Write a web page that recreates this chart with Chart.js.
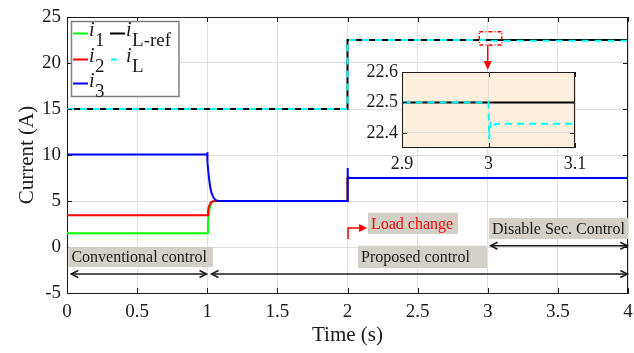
<!DOCTYPE html>
<html>
<head>
<meta charset="utf-8">
<script src="https://cdn.jsdelivr.net/npm/chart.js@4/dist/chart.umd.min.js"></script>
<style>
html, body { margin: 0; padding: 0; background: #fff; }
#wrap { position: relative; width: 634px; height: 353px; }
#main { position: absolute; left: 0; top: 0; }
#inset { position: absolute; left: 340px; top: 60px; }
</style>
</head>
<body>
<div id="wrap">
  <canvas id="main" width="634" height="353"></canvas>
  <canvas id="inset" width="250" height="120"></canvas>
</div>
<script>
// === DATA ===
const tI1 = [0, 1.0, 1.005, 1.01, 1.02, 1.03, 1.05, 2.0, 2.0, 4.0];
const vI1 = [1.5, 1.5, 2.6, 3.5, 4.4, 4.8, 5.0, 5.0, 7.5, 7.5];

const tI2 = [0, 1.0, 1.005, 1.01, 1.02, 1.03, 1.05, 2.0, 2.0, 4.0];
const vI2 = [3.45, 3.45, 3.9, 4.3, 4.7, 4.9, 5.0, 5.0, 7.5, 7.5];

const tI3 = [0, 1.0, 1.0, 1.003, 1.01, 1.02, 1.03, 1.045, 1.06, 1.08, 2.0, 2.0, 2.003, 2.008, 4.0];
const vI3 = [10.05, 10.05, 10.3, 9.2, 7.8, 6.6, 5.9, 5.35, 5.1, 5.0, 5.0, 8.6, 7.8, 7.5, 7.5];

const tRef = [0, 2.0, 2.0, 4.0];
const vRef = [15, 15, 22.5, 22.5];

const tIL = [0, 2.0, 2.0, 3.0, 3.0008, 3.0025, 3.007, 3.012, 4.0];
const vIL = [15, 15, 22.5, 22.5, 22.38, 22.44, 22.427, 22.43, 22.43];

const xTicks = [0, 0.5, 1, 1.5, 2, 2.5, 3, 3.5, 4];
const yTicks = [-5, 0, 5, 10, 15, 20, 25];
const insetXTicks = [2.9, 3, 3.1];
const insetYTicks = [22.4, 22.5, 22.6];

const SERIF = '"Liberation Serif", "Times New Roman", serif';
const INK = '#1a1a1a';
const GRID = '#dfdfdf';
const NOTE_BG = '#d4d0c8';

const pts = (ts, vs) => ts.map((t, i) => ({ x: t, y: vs[i] }));

// === HELPERS ===
function openHead(ctx, x, y, dir) {
    ctx.beginPath();
    ctx.moveTo(x + dir * 7, y - 3.5);
    ctx.lineTo(x, y);
    ctx.lineTo(x + dir * 7, y + 3.5);
    ctx.stroke();
}

function dblArrow(ctx, x0, x1, y) {
    ctx.strokeStyle = INK; ctx.lineWidth = 1.5;
    ctx.beginPath(); ctx.moveTo(x0, y); ctx.lineTo(x1, y); ctx.stroke();
    openHead(ctx, x0, y, 1);
    openHead(ctx, x1, y, -1);
}

function noteBox(ctx, x0, x1, y0, y1, text, color) {
    ctx.fillStyle = NOTE_BG;
    ctx.fillRect(x0, y0, x1 - x0, y1 - y0);
    ctx.fillStyle = color;
    ctx.font = '16px ' + SERIF;
    ctx.textAlign = 'left'; ctx.textBaseline = 'middle';
    ctx.fillText(text, x0 + 3, (y0 + y1) / 2 + 1);
}

function legendSym(ctx, i, sub, x, yBase) {
    ctx.fillStyle = INK;
    ctx.textAlign = 'left'; ctx.textBaseline = 'alphabetic';
    ctx.font = 'italic 20px ' + SERIF;
    ctx.fillText(i, x, yBase);
    const w = ctx.measureText(i).width;
    ctx.font = '19px ' + SERIF;
    ctx.fillText(sub, x + w + 0.5, yBase + 9.5);
}

function drawLegend(ctx) {
    ctx.fillStyle = '#fff';
    ctx.fillRect(71.5, 21.5, 107.5, 75);
    ctx.strokeStyle = '#808080'; ctx.lineWidth = 1.5;
    ctx.strokeRect(71.5, 21.5, 107.5, 75);
    const seg = (x0, x1, y, c, dash) => {
        ctx.strokeStyle = c; ctx.lineWidth = 2; ctx.setLineDash(dash || []);
        ctx.beginPath(); ctx.moveTo(x0, y); ctx.lineTo(x1, y); ctx.stroke();
        ctx.setLineDash([]);
    };
    seg(73, 88, 33.5, '#00ff00');
    legendSym(ctx, 'i', '1', 89, 36);
    seg(110, 125, 33.5, '#000000');
    legendSym(ctx, 'i', 'L-ref', 126, 36);
    seg(73, 88, 59.5, '#ff0000');
    legendSym(ctx, 'i', '2', 89, 62);
    seg(111, 117, 59.5, '#00ffff');
    legendSym(ctx, 'i', 'L', 126, 62);
    seg(73, 88, 83.5, '#0000ff');
    legendSym(ctx, 'i', '3', 89, 87);
}

function innerTicks(ctx, a, xs, ys, X, Y) {
    ctx.strokeStyle = INK; ctx.lineWidth = 1;
    ctx.beginPath();
    xs.forEach(t => {
        const px = Math.round(X(t)) + 0.5;
        ctx.moveTo(px, a.bottom); ctx.lineTo(px, a.bottom - 5);
        ctx.moveTo(px, a.top); ctx.lineTo(px, a.top + 5);
    });
    ys.forEach(v => {
        const py = Math.round(Y(v)) + 0.5;
        ctx.moveTo(a.left, py); ctx.lineTo(a.left + 5, py);
        ctx.moveTo(a.right, py); ctx.lineTo(a.right - 5, py);
    });
    ctx.stroke();
}

// === MAIN CHART ===
const notesPlugin = {
    id: 'notes',
    afterDatasetsDraw(chart) {
        const { ctx, chartArea: a, scales: { x, y } } = chart;
        const X = v => x.getPixelForValue(v), Y = v => y.getPixelForValue(v);
        ctx.save();

        // frame + inward ticks
        ctx.strokeStyle = INK; ctx.lineWidth = 1;
        ctx.beginPath();
        ctx.moveTo(a.left, a.top + 0.5); ctx.lineTo(a.right, a.top + 0.5);
        ctx.moveTo(a.right - 0.5, a.top); ctx.lineTo(a.right - 0.5, a.bottom);
        ctx.stroke();
        innerTicks(ctx, a, xTicks, yTicks, X, Y);

        // text boxes
        noteBox(ctx, X(0.01), X(1.04), Y(0), Y(-2.17), 'Conventional control', INK);
        noteBox(ctx, X(2.075), X(2.995), Y(0.14), Y(-2.28), 'Proposed control', INK);
        noteBox(ctx, X(2.146), X(2.788), Y(3.73), Y(1.41), 'Load change', '#ff0000');
        noteBox(ctx, X(3.009), X(4.0), Y(3.15), Y(0.87), 'Disable Sec. Control', INK);

        // double arrows
        dblArrow(ctx, X(0.03), X(0.995), Y(-2.93));
        dblArrow(ctx, X(1.03), X(3.995), Y(-2.93));
        dblArrow(ctx, X(3.02), X(3.995), Y(0.14));

        // load change arrow
        ctx.strokeStyle = '#ff0000'; ctx.fillStyle = '#ff0000'; ctx.lineWidth = 1.5;
        const lx = X(2.004), ly0 = Y(0.87), ly1 = Y(2.07), lx1 = X(2.14);
        ctx.beginPath(); ctx.moveTo(lx, ly0); ctx.lineTo(lx, ly1); ctx.lineTo(lx1 - 6, ly1); ctx.stroke();
        ctx.beginPath(); ctx.moveTo(lx1, ly1); ctx.lineTo(lx1 - 8, ly1 - 4); ctx.lineTo(lx1 - 8, ly1 + 4); ctx.closePath(); ctx.fill();

        // zoom marker + pointer
        ctx.setLineDash([4, 2, 1, 2]);
        ctx.strokeRect(X(2.94), Y(23.4), X(3.10) - X(2.94), Y(21.96) - Y(23.4));
        ctx.setLineDash([]);
        const px = X(3), py0 = Y(21.96), py1 = Y(19.25);
        ctx.beginPath(); ctx.moveTo(px, py0); ctx.lineTo(px, py1 - 7); ctx.stroke();
        ctx.beginPath(); ctx.moveTo(px, py1); ctx.lineTo(px - 4, py1 - 9); ctx.lineTo(px + 4, py1 - 9); ctx.closePath(); ctx.fill();

        drawLegend(ctx);
        ctx.restore();
    }
};

const tickFont = { family: SERIF, size: 19 };
const numLabel = v => String(Number(Number(v).toFixed(3)));

new Chart(document.getElementById('main'), {
    type: 'line',
    data: {
        datasets: [
            { label: 'iL', data: pts(tIL, vIL), borderColor: '#00ffff', borderDash: [7, 6], borderWidth: 2 },
            { label: 'iL-ref', data: pts(tRef, vRef), borderColor: '#000000', borderWidth: 2 },
            { label: 'i3', data: pts(tI3, vI3), borderColor: '#0000ff', borderWidth: 2 },
            { label: 'i2', data: pts(tI2, vI2), borderColor: '#ff0000', borderWidth: 2 },
            { label: 'i1', data: pts(tI1, vI1), borderColor: '#00ff00', borderWidth: 2 }
        ]
    },
    options: {
        responsive: false, animation: false,
        layout: { padding: { top: 17, right: 6, left: 0, bottom: 0 } },
        elements: { point: { radius: 0 }, line: { tension: 0 } },
        plugins: { legend: { display: false }, tooltip: { enabled: false } },
        scales: {
            x: {
                type: 'linear', min: 0, max: 4,
                afterBuildTicks: s => { s.ticks = xTicks.map(v => ({ value: v })); },
                afterFit: s => { s.height = 60; s.paddingLeft = 0; s.paddingRight = 0; },
                ticks: { padding: 8, color: INK, font: tickFont, maxRotation: 0, callback: numLabel },
                grid: { color: GRID, drawTicks: false },
                border: { color: INK },
                title: { display: true, text: 'Time (s)', color: INK, font: { family: SERIF, size: 21 }, padding: { top: 0, bottom: 5 } }
            },
            y: {
                type: 'linear', min: -5, max: 25,
                afterBuildTicks: s => { s.ticks = yTicks.map(v => ({ value: v })); },
                afterFit: s => { s.width = 67; s.paddingTop = 0; s.paddingBottom = 0; },
                ticks: { padding: 6, color: INK, font: tickFont, callback: numLabel },
                grid: { color: GRID, drawTicks: false },
                border: { color: INK },
                title: { display: true, text: 'Current (A)', color: INK, font: { family: SERIF, size: 21 }, padding: { top: 15, bottom: 0 } }
            }
        }
    },
    plugins: [notesPlugin]
});

// === INSET ===
const insetPlugin = {
    id: 'insetFrame',
    beforeDraw(chart) {
        const { ctx, chartArea: a } = chart;
        ctx.save();
        ctx.fillStyle = '#fcf0dc';
        ctx.fillRect(a.left, a.top, a.right - a.left, a.bottom - a.top);
        ctx.restore();
    },
    afterDatasetsDraw(chart) {
        const { ctx, chartArea: a, scales: { x, y } } = chart;
        ctx.save();
        ctx.strokeStyle = INK; ctx.lineWidth = 1;
        ctx.strokeRect(a.left + 0.5, a.top + 0.5, a.right - a.left - 1, a.bottom - a.top - 1);
        innerTicks(ctx, a, insetXTicks, insetYTicks, v => x.getPixelForValue(v), v => y.getPixelForValue(v));
        ctx.restore();
    }
};

new Chart(document.getElementById('inset'), {
    type: 'line',
    data: {
        datasets: [
            { data: pts(tIL, vIL), borderColor: '#00ffff', borderDash: [7, 5], borderWidth: 2 },
            { data: pts(tRef, vRef), borderColor: '#000000', borderWidth: 2 }
        ]
    },
    options: {
        responsive: false, animation: false,
        layout: { padding: { top: 12, right: 15, left: 0, bottom: 0 } },
        elements: { point: { radius: 0 }, line: { tension: 0 } },
        plugins: { legend: { display: false }, tooltip: { enabled: false } },
        scales: {
            x: {
                type: 'linear', min: 2.9, max: 3.1,
                afterBuildTicks: s => { s.ticks = insetXTicks.map(v => ({ value: v })); },
                afterFit: s => { s.height = 32; s.paddingLeft = 0; s.paddingRight = 0; },
                ticks: { padding: 5, color: INK, font: { family: SERIF, size: 18 }, maxRotation: 0, callback: numLabel },
                grid: { color: GRID, drawTicks: false },
                border: { display: false }
            },
            y: {
                type: 'linear', min: 22.35, max: 22.6,
                afterBuildTicks: s => { s.ticks = insetYTicks.map(v => ({ value: v })); },
                afterFit: s => { s.width = 62; s.paddingTop = 0; s.paddingBottom = 0; },
                ticks: { padding: 4, color: INK, font: { family: SERIF, size: 18 }, callback: numLabel },
                grid: { color: GRID, drawTicks: false },
                border: { display: false }
            }
        }
    },
    plugins: [insetPlugin]
});
</script>
</body>
</html>
